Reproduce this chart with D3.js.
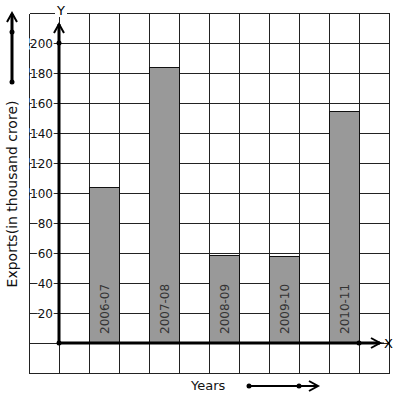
<!DOCTYPE html>
<meta charset="utf-8">
<title>Exports bar graph</title>
<style>
  body { margin: 0; background: #fff; }
  text { font-family: "DejaVu Sans", sans-serif; }
  .grid line { stroke: #222; stroke-width: 1px; shape-rendering: crispEdges; }
  .bar { fill: #999; stroke: #111; stroke-width: 1px; shape-rendering: crispEdges; }
  .thick { stroke: #000; stroke-width: 3px; fill: none; }
  .arrow { stroke: #000; stroke-width: 2px; fill: none; }
</style>
<body>
<svg width="397" height="399"></svg>
<script src="https://d3js.org/d3.v7.min.js"></script>
<script>
  // data
  var years = ["2006-07", "2007-08", "2008-09", "2009-10", "2010-11"];
  var exports = [104, 184, 59, 58, 155];
  var yTicks = [20, 40, 60, 80, 100, 120, 140, 160, 180, 200];

  var svg = d3.select("svg");

  // one grid square = 30px, 20 units per square
  var x = d3.scaleLinear().domain([-1, 11]).range([29, 389]);
  var y = d3.scaleLinear().domain([-20, 220]).range([373, 13]);
  var xb = d3.scaleBand().domain(years).range([x(1), x(10)]).paddingInner(0.5).paddingOuter(0);

  // graph paper
  var grid = svg.append("g").attr("class", "grid").attr("transform", "translate(0.5,0.5)");
  grid.selectAll(".v").data(d3.range(-1, 12)).enter().append("line")
    .attr("x1", d => x(d)).attr("x2", d => x(d))
    .attr("y1", y(220)).attr("y2", y(-20));
  grid.selectAll(".h").data(d3.range(-20, 221, 20)).enter().append("line")
    .attr("y1", d => y(d)).attr("y2", d => y(d))
    .attr("x1", x(-1)).attr("x2", x(11));

  // bars
  svg.append("g").attr("transform", "translate(0.5,0.5)")
    .selectAll("rect").data(years).enter().append("rect")
    .attr("class", "bar")
    .attr("x", d => xb(d))
    .attr("width", xb.bandwidth())
    .attr("y", (d, i) => y(exports[i]))
    .attr("height", (d, i) => y(0) - y(exports[i]));

  // year labels inside the bars, reading upwards
  svg.selectAll(".blab").data(years).enter().append("text")
    .attr("transform", d => "translate(" + (xb(d) + xb.bandwidth() / 2 + 0.5) + "," + (y(0) - 9) + ") rotate(-90)")
    .attr("text-anchor", "start")
    .attr("dominant-baseline", "central")
    .style("font-size", "12px")
    .style("fill", "#333")
    .text(d => d);

  // y tick labels sit on the grid lines with a white halo
  svg.selectAll(".ylab").data(yTicks).enter().append("text")
    .attr("x", x(0) - 6)
    .attr("y", d => y(d) + 0.5)
    .attr("text-anchor", "end")
    .attr("dominant-baseline", "central")
    .style("font-size", "12px")
    .style("fill", "#111")
    .style("stroke", "#fff").style("stroke-width", "3px").style("paint-order", "stroke")
    .text(d => d);

  // axes
  var ox = x(0), oy = y(0);
  svg.append("line").attr("class", "thick")
    .attr("x1", ox).attr("y1", oy).attr("x2", ox).attr("y2", 24);
  svg.append("path").attr("class", "arrow")
    .attr("d", "M" + (ox - 5) + ",33L" + ox + ",24L" + (ox + 5) + ",33");
  svg.append("line").attr("class", "thick")
    .attr("x1", ox).attr("y1", oy).attr("x2", 380).attr("y2", oy);
  svg.append("path").attr("class", "arrow")
    .attr("d", "M371," + (oy - 5) + "L380," + oy + "L371," + (oy + 5));
  svg.append("line").attr("stroke", "#000").attr("stroke-width", 1)
    .attr("x1", 380).attr("y1", oy).attr("x2", 384).attr("y2", oy);

  svg.selectAll(".dot").data([[ox, oy], [ox, y(200)], [x(10), oy]]).enter().append("circle")
    .attr("cx", d => d[0]).attr("cy", d => d[1]).attr("r", 2.5).attr("fill", "#000");

  // axis letters
  svg.append("rect").attr("x", 55).attr("y", 9).attr("width", 12).attr("height", 8).attr("fill", "#fff");
  svg.append("text").attr("x", 61).attr("y", 10).attr("text-anchor", "middle")
    .attr("dominant-baseline", "central").style("font-size", "13px").text("Y");
  svg.append("text").attr("x", 388.5).attr("y", oy).attr("text-anchor", "middle")
    .attr("dominant-baseline", "central").style("font-size", "13px").text("X");

  // axis titles
  svg.append("text")
    .attr("transform", "translate(12,194) rotate(-90)")
    .attr("text-anchor", "middle").attr("dominant-baseline", "central")
    .style("font-size", "14px").style("fill", "#111")
    .text("Exports(in thousand crore)");
  svg.append("text").attr("x", 191).attr("y", 385)
    .attr("dominant-baseline", "central")
    .style("font-size", "13px").style("fill", "#111")
    .text("Years");

  // direction arrows
  svg.append("line").attr("class", "thick").attr("x1", 12).attr("y1", 82).attr("x2", 12).attr("y2", 14);
  svg.append("path").attr("class", "arrow").attr("d", "M7,22L12,13L17,22");
  svg.selectAll(".ld").data([32, 82]).enter().append("circle")
    .attr("cx", 12).attr("cy", d => d).attr("r", 2.5).attr("fill", "#000");

  svg.append("line").attr("stroke", "#000").attr("stroke-width", 2)
    .attr("x1", 249).attr("y1", 386).attr("x2", 318).attr("y2", 386);
  svg.append("path").attr("class", "arrow").attr("d", "M309,381L318,386L309,391");
  svg.selectAll(".bd").data([249, 299]).enter().append("circle")
    .attr("cx", d => d).attr("cy", 386).attr("r", 2.5).attr("fill", "#000");
</script>
</body>
